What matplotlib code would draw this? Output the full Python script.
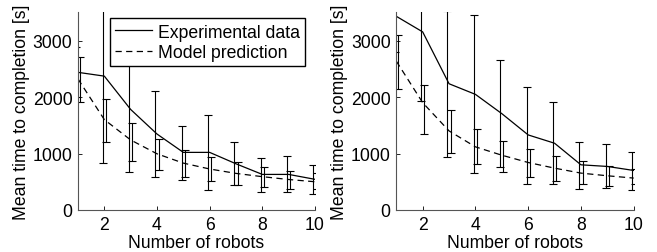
import matplotlib
matplotlib.use("Agg")
import matplotlib.pyplot as plt
import numpy as np

plt.rcParams['font.family'] = ['Liberation Sans', 'DejaVu Sans']

robots = [1, 2, 3, 4, 5, 6, 7, 8, 9, 10]

# Left panel
left_exp_mean = [2437, 2370, 1780, 1345, 1020, 1020, 818, 630, 630, 543]
left_exp_lo = [2000, 826, 667, 590, 537, 354, 442, 324, 313, 289]
left_exp_hi = [2880, 3914, 2909, 2112, 1492, 1687, 1198, 920, 950, 791]
left_mod_mean = [2320, 1600, 1240, 995, 830, 726, 648, 590, 540, 500]
left_mod_lo = [1906, 1198, 862, 713, 576, 512, 442, 401, 366, 366]
left_mod_hi = [2713, 1965, 1535, 1257, 1065, 941, 844, 767, 690, 655]

# Right panel
right_exp_mean = [3429, 3153, 2235, 2047, 1706, 1329, 1182, 800, 771, 700]
right_exp_lo = [2800, 1928, 947, 653, 753, 464, 453, 370, 383, 358]
right_exp_hi = [4060, 4380, 3520, 3447, 2659, 2182, 1910, 1212, 1164, 1035]
right_mod_mean = [2635, 1900, 1400, 1118, 970, 841, 741, 653, 606, 565]
right_mod_lo = [2150, 1340, 1005, 806, 665, 582, 517, 459, 418, 459]
right_mod_hi = [3100, 2205, 1769, 1441, 1229, 1076, 958, 859, 781, 723]

xticks = [2, 4, 6, 8, 10]
yticks = [0, 1000, 2000, 3000]
xlabel = "Number of robots"
ylabel = "Mean time to completion [s]"
legend_labels = ["Experimental data", "Model prediction"]

fig = plt.figure(figsize=(6.57, 2.53), dpi=100)
ax1 = fig.add_axes([78/657, 42/253, 237/657, 197.7/253])
ax2 = fig.add_axes([396.3/657, 42/253, 237.4/657, 197.7/253])

FS = 12.7
dash = (0, (5, 3.5))
off = 0.06

def draw(ax, em, elo, ehi, mm, mlo, mhi, legend=False):
    x = np.array(robots, dtype=float)
    em = np.array(em); mm = np.array(mm)
    e_err = [em - np.array(elo), np.array(ehi) - em]
    m_err = [mm - np.array(mlo), np.array(mhi) - mm]
    ax.plot(x, em, color='black', lw=0.9, label=legend_labels[0])
    ax.plot(x, mm, color='black', lw=0.9, linestyle=dash, label=legend_labels[1])
    ax.errorbar(x - off, em, yerr=e_err, fmt='none', ecolor='black',
                elinewidth=0.8, capsize=3, capthick=0.8)
    ax.errorbar(x + off, mm, yerr=m_err, fmt='none', ecolor='black',
                elinewidth=0.8, capsize=3, capthick=0.8)
    ax.set_xlim(1, 10)
    ax.set_ylim(0, 3500)
    ax.set_xticks(xticks)
    ax.set_yticks(yticks)
    ax.tick_params(direction='in', length=3, width=0.6, labelsize=FS, pad=4)
    for s in ['top', 'right']:
        ax.spines[s].set_visible(False)
    for s in ['left', 'bottom']:
        ax.spines[s].set_linewidth(0.8)
        ax.spines[s].set_color('#555555')
    ax.set_xlabel(xlabel, fontsize=FS, labelpad=1)
    ax.set_ylabel(ylabel, fontsize=FS, labelpad=2)
    if legend:
        leg = ax.legend(loc='upper right', bbox_to_anchor=(0.958, 0.97),
                        fontsize=FS, frameon=True, fancybox=False, framealpha=1.0,
                        edgecolor='black', handlelength=2.1, handletextpad=0.3,
                        borderpad=0.3, labelspacing=0.2, borderaxespad=0.0)
        leg.get_frame().set_linewidth(1.0)
        leg.set_zorder(10)

draw(ax1, left_exp_mean, left_exp_lo, left_exp_hi,
     left_mod_mean, left_mod_lo, left_mod_hi, legend=True)
draw(ax2, right_exp_mean, right_exp_lo, right_exp_hi,
     right_mod_mean, right_mod_lo, right_mod_hi)

fig.savefig("out.png", dpi=100)
